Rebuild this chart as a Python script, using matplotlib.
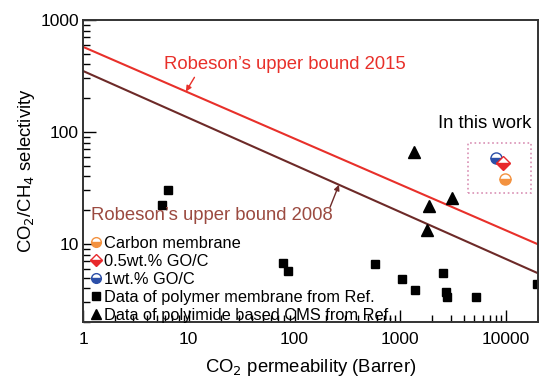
import numpy as np
import matplotlib
matplotlib.use("Agg")
import matplotlib.pyplot as plt
from matplotlib.lines import Line2D
from matplotlib.patches import Rectangle

plt.rcParams['font.family'] = ['Liberation Sans', 'DejaVu Sans']

# literature data, CO2 permeability (Barrer) vs CO2/CH4 selectivity
polymer_p = [5.6, 6.4, 78, 87, 575, 1035, 1375, 2530, 2700, 2760, 5190, 19500]
polymer_s = [22.2, 30.3, 6.7, 5.7, 6.6, 4.9, 3.9, 5.5, 3.7, 3.35, 3.35, 4.4]
cms_p = [1345, 1860, 3075, 1785]
cms_s = [66, 21.8, 25.6, 13.3]

# this work
carbon_p, carbon_s = [9750], [37.9]
go05_p, go05_s = [9330], [52.8]
go1_p, go1_s = [8000], [58.5]

# upper bound lines: selectivity = a * P**b
ub2015_a, ub2015_b = 575, -0.41
ub2008_a, ub2008_b = 350, -0.42

c2015 = '#e8302a'
c2008 = '#6d2a28'
c2008_txt = '#9b4a40'
c_orange = '#f39240'
c_red = '#e8282b'
c_blue = '#2c4fa8'

fig = plt.figure(figsize=(5.39, 3.83), dpi=100)
ax = fig.add_axes([0.154, 0.159, 0.844, 0.789])
ax.set_xscale('log')
ax.set_yscale('log')
ax.set_xlim(1, 20000)
ax.set_ylim(2, 1000)

p = np.logspace(0, np.log10(20000), 200)
ax.plot(p, ub2015_a * p ** ub2015_b, color=c2015, lw=1.5)
ax.plot(p, ub2008_a * p ** ub2008_b, color=c2008, lw=1.5)

ax.plot(polymer_p, polymer_s, 's', color='black', ms=5.5, ls='none', clip_on=False)
ax.plot(cms_p, cms_s, '^', color='black', ms=8.5, ls='none')

half = dict(fillstyle='bottom', markerfacecoloralt='white', ls='none')
ax.plot(go1_p, go1_s, 'o', color=c_blue, mec=c_blue, ms=8, **half)
ax.plot(go05_p, go05_s, 'D', color=c_red, mec=c_red, ms=7, **half)
ax.plot(carbon_p, carbon_s, 'o', color=c_orange, mec=c_orange, ms=8, **half)

# upper bound labels with arrows pointing at the lines
p15 = 9.4
ax.annotate('', xy=(p15, ub2015_a * p15 ** ub2015_b), xytext=(0.245, 0.81),
            textcoords='axes fraction',
            arrowprops=dict(arrowstyle='-|>', color=c2015, lw=1, mutation_scale=8,
                            shrinkA=0, shrinkB=0))
ax.text(0.444, 0.853, "Robeson\u2019s upper bound 2015", transform=ax.transAxes,
        color=c2015, fontsize=13.3, ha='center', va='center')

p08 = 263
ax.annotate('', xy=(p08, ub2008_a * p08 ** ub2008_b), xytext=(0.543, 0.38),
            textcoords='axes fraction',
            arrowprops=dict(arrowstyle='-|>', color=c2008, lw=1, mutation_scale=8,
                            shrinkA=0, shrinkB=0))
ax.text(0.284, 0.354, "Robeson\u2019s upper bound 2008", transform=ax.transAxes,
        color=c2008_txt, fontsize=13.3, ha='center', va='center')

ax.text(0.884, 0.656, "In this work", transform=ax.transAxes,
        fontsize=13.3, ha='center', va='center')
ax.add_patch(Rectangle((0.846, 0.427), 0.138, 0.166, transform=ax.transAxes,
                       fill=False, ls=':', lw=1.2, ec='#d990b4'))

handles = [
    Line2D([], [], marker='o', color=c_orange, mec=c_orange, ms=7, **half),
    Line2D([], [], marker='D', color=c_red, mec=c_red, ms=6, **half),
    Line2D([], [], marker='o', color=c_blue, mec=c_blue, ms=7, **half),
    Line2D([], [], marker='s', color='black', ms=5.5, ls='none'),
    Line2D([], [], marker='^', color='black', ms=7.5, ls='none'),
]
labels = ['Carbon membrane', '0.5wt.% GO/C', '1wt.% GO/C',
          'Data of polymer membrane from Ref.',
          'Data of polyimide based CMS from Ref.']
ax.legend(handles, labels, loc='lower left', bbox_to_anchor=(-0.005, -0.035),
          frameon=False, fontsize=11.8, handlelength=0.7, handletextpad=0.15,
          labelspacing=0.18, borderaxespad=0.2)

for s in ax.spines.values():
    s.set_linewidth(1.4)
    s.set_color('#333333')
ax.tick_params(which='both', direction='in', top=False, right=False, labelsize=12.5)
ax.tick_params(which='major', length=9, width=1)
ax.tick_params(which='minor', length=5, width=1)
ax.set_xticks([1, 10, 100, 1000, 10000])
ax.set_xticklabels(['1', '10', '100', '1000', '10000'])
ax.set_yticks([10, 100, 1000])
ax.set_yticklabels(['10', '100', '1000'])
ax.tick_params(axis='x', pad=7)
ax.tick_params(axis='y', pad=3)

ax.set_xlabel('CO$_2$ permeability (Barrer)', fontsize=13.3, labelpad=7)
ax.set_ylabel('CO$_2$/CH$_4$ selectivity', fontsize=13.3, labelpad=2)

fig.savefig('out.png', dpi=100)
